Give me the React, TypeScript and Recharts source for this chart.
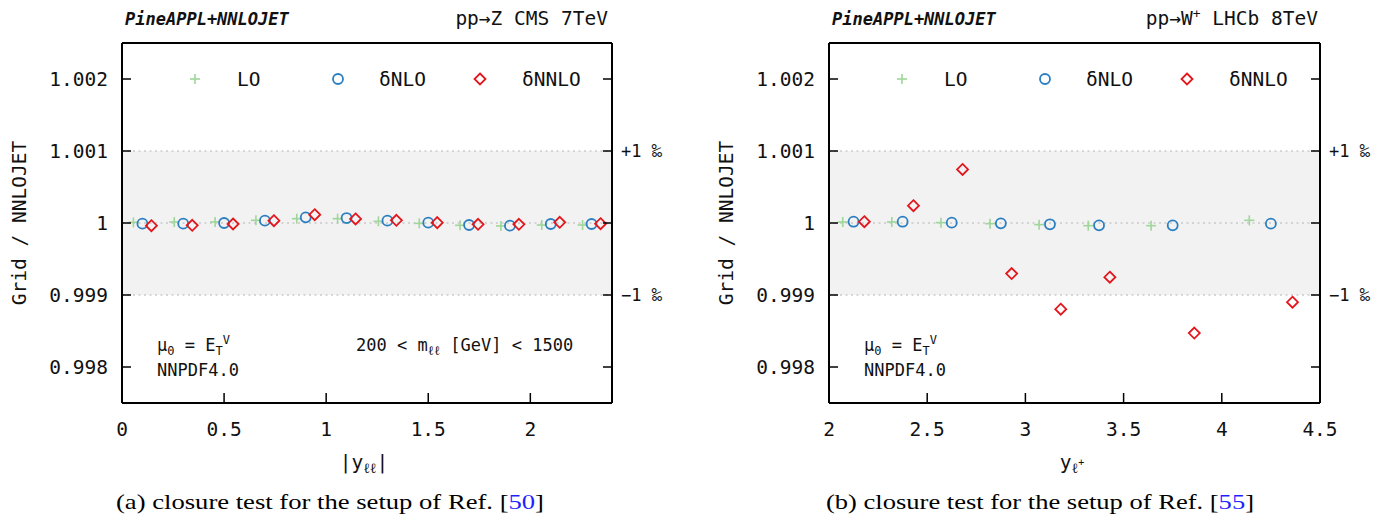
import React from "react";
import {
  ScatterChart,
  Scatter,
  XAxis,
  YAxis,
  ReferenceArea,
  ReferenceLine,
} from "recharts";

// (a) pp -> Z CMS 7TeV, bins in |y_ll|
const zBinLo = [0, 0.2, 0.4, 0.6, 0.8, 1.0, 1.2, 1.4, 1.6, 1.8, 2.0, 2.2];
const zBinHi = [0.2, 0.4, 0.6, 0.8, 1.0, 1.2, 1.4, 1.6, 1.8, 2.0, 2.2, 2.4];
const zLO = [
  1.000009, 1.000014, 1.000014, 1.000037, 1.00006, 1.00006, 1.000023,
  0.999995, 0.999968, 0.999959, 0.999972, 0.999972,
];
const zNLO = [
  0.999991, 0.999991, 1.0, 1.000032, 1.000079, 1.000069, 1.000032, 1.000005,
  0.999972, 0.999963, 0.999986, 0.999986,
];
const zNNLO = [
  0.999963, 0.999968, 0.999986, 1.000032, 1.000116, 1.000056, 1.000037,
  1.000005, 0.999982, 0.999982, 1.000009, 0.999991,
];

// (b) pp -> W+ LHCb 8TeV, bins in y_l+
const wBinLo = [2.0, 2.25, 2.5, 2.75, 3.0, 3.25, 3.5, 4.0];
const wBinHi = [2.25, 2.5, 2.75, 3.0, 3.25, 3.5, 4.0, 4.5];
const wLO = [
  1.000014, 1.000014, 1.000005, 0.999991, 0.999977, 0.999963, 0.999963,
  1.000037,
];
const wNLO = [
  1.000018, 1.000018, 1.000005, 0.999995, 0.999982, 0.999968, 0.999968,
  0.999991,
];
const wNNLO = [
  1.000018, 1.00024, 1.000744, 0.999298, 0.998803, 0.999247, 0.998471,
  0.9989,
];

const yTicks = [0.998, 0.999, 1, 1.001, 1.002];
const yTickLabels = ["0.998", "0.999", "1", "1.001", "1.002"];
const permilleLabels = ["", "\u22121\u2009\u2030", "", "+1\u2009\u2030", ""];
const bandLines = [0.999, 1, 1.001];
const zXTicks = [0, 0.5, 1, 1.5, 2];
const zXTickLabels = ["0", "0.5", "1", "1.5", "2"];
const wXTicks = [2, 2.5, 3, 3.5, 4, 4.5];
const wXTickLabels = ["2", "2.5", "3", "3.5", "4", "4.5"];

const MONO = "'DejaVu Sans Mono', monospace";
const GREEN = "#9fd69a";
const BLUE = "#2b7fc0";
const RED = "#e3161c";

const PlusMark = ({ cx, cy }: { cx: number; cy: number }) => (
  <g stroke={GREEN} strokeWidth={1.6}>
    <line x1={cx - 5} x2={cx + 5} y1={cy} y2={cy} />
    <line x1={cx} x2={cx} y1={cy - 5} y2={cy + 5} />
  </g>
);
const CircleMark = ({ cx, cy }: { cx: number; cy: number }) => (
  <circle cx={cx} cy={cy} r={5} fill="none" stroke={BLUE} strokeWidth={1.8} />
);
const DiamondMark = ({ cx, cy }: { cx: number; cy: number }) => (
  <path
    d={`M${cx},${cy - 5.5}L${cx + 5.5},${cy}L${cx},${cy + 5.5}L${cx - 5.5},${cy}Z`}
    fill="none"
    stroke={RED}
    strokeWidth={1.8}
  />
);

const buildSeries = (lo: number[], hi: number[], vals: number[], shift: number) =>
  vals.map((v, i) => {
    const w = hi[i] - lo[i];
    return { x: (lo[i] + hi[i]) / 2 + shift * 0.22 * w, y: v };
  });

const txt = { fontFamily: MONO, fontSize: 19.5, fill: "#111" };

const LeftTick = (p: any) => {
  const i = yTicks.indexOf(p.payload.value);
  return (
    <g>
      <line x1={p.x} x2={p.x + 9} y1={p.y} y2={p.y} stroke="#000" strokeWidth={1.5} />
      <text x={p.x - 14} y={p.y} dy="0.36em" textAnchor="end" {...txt}>
        {yTickLabels[i]}
      </text>
    </g>
  );
};

const RightTick = (p: any) => {
  const i = yTicks.indexOf(p.payload.value);
  return (
    <g>
      <line x1={p.x} x2={p.x - 9} y1={p.y} y2={p.y} stroke="#000" strokeWidth={1.5} />
      <text x={p.x + 9} y={p.y} dy="0.36em" textAnchor="start" {...txt} fontSize={17}>
        {permilleLabels[i]}
      </text>
    </g>
  );
};

const makeBottomTick = (ticks: number[], labels: string[]) => (p: any) => {
  const i = ticks.indexOf(p.payload.value);
  return (
    <g>
      <line x1={p.x} x2={p.x} y1={p.y} y2={p.y - 10} stroke="#000" strokeWidth={1.5} />
      <text x={p.x} y={p.y + 33} textAnchor="middle" {...txt}>
        {labels[i]}
      </text>
    </g>
  );
};

const TopTick = (p: any) => (
  <line x1={p.x} x2={p.x} y1={p.y} y2={p.y + 10} stroke="#000" strokeWidth={1.5} />
);

interface PanelProps {
  width: number;
  margin: { top: number; right: number; bottom: number; left: number };
  domain: [number, number];
  xTicks: number[];
  xLabels: string[];
  binLo: number[];
  binHi: number[];
  lo: number[];
  nlo: number[];
  nnlo: number[];
}

const Panel: React.FC<PanelProps> = ({
  width,
  margin,
  domain,
  xTicks,
  xLabels,
  binLo,
  binHi,
  lo,
  nlo,
  nnlo,
}) => {
  const frame = { stroke: "#000", strokeWidth: 2 };
  return (
    <ScatterChart width={width} height={516} margin={margin}>
      <XAxis
        xAxisId="bottom"
        orientation="bottom"
        type="number"
        dataKey="x"
        domain={domain}
        ticks={xTicks}
        interval={0}
        allowDataOverflow
        height={30}
        tickSize={0}
        tickMargin={0}
        tickLine={false}
        axisLine={frame}
        tick={makeBottomTick(xTicks, xLabels)}
      />
      <XAxis
        xAxisId="top"
        orientation="top"
        type="number"
        domain={domain}
        ticks={xTicks}
        interval={0}
        allowDataOverflow
        height={10}
        tickSize={0}
        tickMargin={0}
        tickLine={false}
        axisLine={frame}
        tick={TopTick}
      />
      <YAxis
        yAxisId="left"
        orientation="left"
        type="number"
        dataKey="y"
        domain={[0.9975, 1.0025]}
        ticks={yTicks}
        interval={0}
        allowDataOverflow
        width={60}
        tickSize={0}
        tickMargin={0}
        tickLine={false}
        axisLine={frame}
        tick={LeftTick}
      />
      <YAxis
        yAxisId="right"
        orientation="right"
        type="number"
        domain={[0.9975, 1.0025]}
        ticks={yTicks}
        interval={0}
        allowDataOverflow
        width={60}
        tickSize={0}
        tickMargin={0}
        tickLine={false}
        axisLine={frame}
        tick={RightTick}
      />
      <ReferenceArea
        xAxisId="bottom"
        yAxisId="left"
        y1={0.999}
        y2={1.001}
        fill="#f2f2f2"
        fillOpacity={1}
        stroke="none"
      />
      {bandLines.map((v) => (
        <ReferenceLine
          key={v}
          xAxisId="bottom"
          yAxisId="left"
          y={v}
          stroke="#b4b4b4"
          strokeWidth={1}
          strokeDasharray="2 3.5"
        />
      ))}
      <Scatter
        xAxisId="bottom"
        yAxisId="left"
        data={buildSeries(binLo, binHi, lo, -1)}
        shape={(p: any) => <PlusMark cx={p.cx} cy={p.cy} />}
        isAnimationActive={false}
      />
      <Scatter
        xAxisId="bottom"
        yAxisId="left"
        data={buildSeries(binLo, binHi, nlo, 0)}
        shape={(p: any) => <CircleMark cx={p.cx} cy={p.cy} />}
        isAnimationActive={false}
      />
      <Scatter
        xAxisId="bottom"
        yAxisId="left"
        data={buildSeries(binLo, binHi, nnlo, 1)}
        shape={(p: any) => <DiamondMark cx={p.cx} cy={p.cy} />}
        isAnimationActive={false}
      />
    </ScatterChart>
  );
};

// legend + annotations, positioned relative to the plot's left edge
const PanelText = ({ left, right }: { left: number; right: number }) => (
  <g>
    <PlusMark cx={left + 73} cy={79} />
    <text x={left + 115} y={79} dy="0.36em" {...txt}>LO</text>
    <CircleMark cx={left + 216} cy={79} />
    <text x={left + 257} y={79} dy="0.36em" {...txt}>δNLO</text>
    <DiamondMark cx={left + 358} cy={79} />
    <text x={left + 400} y={79} dy="0.36em" {...txt}>δNNLO</text>
    <text x={left + 35} y={351} {...txt} fontSize={17}>
      μ<tspan dy={4} fontSize={12}>0</tspan>
      <tspan dy={-4}> = E</tspan>
      <tspan dy={4} fontSize={12}>T</tspan>
      <tspan dy={-11} fontSize={12}>V</tspan>
    </text>
    <text x={left + 35} y={376} {...txt} fontSize={17}>NNPDF4.0</text>
    <text
      x={left - 103}
      y={223}
      dy="0.36em"
      textAnchor="middle"
      transform={`rotate(-90, ${left - 103}, 223)`}
      {...txt}
    >
      Grid / NNLOJET
    </text>
    <text
      x={left + 3}
      y={25}
      {...txt}
      fontSize={17}
      fontWeight="bold"
      fontStyle="italic"
    >
      PineAPPL+NNLOJET
    </text>
  </g>
);

const App: React.FC = () => {
  return (
    <div
      style={{
        position: "absolute",
        left: 0,
        top: 0,
        width: 1391,
        height: 516,
        background: "#fff",
      }}
    >
      <div style={{ position: "absolute", left: 0, top: 0 }}>
        <Panel
          width={700}
          margin={{ top: 33, right: 28, bottom: 83, left: 62 }}
          domain={[0, 2.4]}
          xTicks={zXTicks}
          xLabels={zXTickLabels}
          binLo={zBinLo}
          binHi={zBinHi}
          lo={zLO}
          nlo={zNLO}
          nnlo={zNNLO}
        />
      </div>
      <div style={{ position: "absolute", left: 700, top: 0 }}>
        <Panel
          width={691}
          margin={{ top: 33, right: 11, bottom: 83, left: 69 }}
          domain={[2, 4.5]}
          xTicks={wXTicks}
          xLabels={wXTickLabels}
          binLo={wBinLo}
          binHi={wBinHi}
          lo={wLO}
          nlo={wNLO}
          nnlo={wNNLO}
        />
      </div>
      <svg
        width={1391}
        height={516}
        style={{ position: "absolute", left: 0, top: 0, pointerEvents: "none" }}
      >
        <PanelText left={122} right={612} />
        <PanelText left={829} right={1320} />

        <text x={608} y={25} textAnchor="end" {...txt}>
          pp→Z CMS 7TeV
        </text>
        <text x={1318} y={25} textAnchor="end" {...txt}>
          pp→W<tspan dy={-7} fontSize={13}>+</tspan>
          <tspan dy={7}> LHCb 8TeV</tspan>
        </text>

        <text x={356} y={351} {...txt} fontSize={17}>
          200 &lt; m<tspan dy={4} fontSize={13}>ℓℓ</tspan>
          <tspan dy={-4}> [GeV] &lt; 1500</tspan>
        </text>

        <text x={364} y={469} textAnchor="middle" {...txt}>
          |y<tspan dy={4} fontSize={14}>ℓℓ</tspan>
          <tspan dy={-4}>|</tspan>
        </text>
        <text x={1072} y={469} textAnchor="middle" {...txt}>
          y<tspan dy={4} fontSize={14}>ℓ</tspan>
          <tspan dy={-7} fontSize={10}>+</tspan>
        </text>

        <text
          x={116}
          y={509}
          fontFamily="'Liberation Serif', serif"
          fontSize={22}
          fill="#000"
          textLength={428}
          lengthAdjust="spacingAndGlyphs"
        >
          (a) closure test for the setup of Ref. [<tspan fill="#1f1fff">50</tspan>]
        </text>
        <text
          x={826}
          y={509}
          fontFamily="'Liberation Serif', serif"
          fontSize={22}
          fill="#000"
          textLength={428}
          lengthAdjust="spacingAndGlyphs"
        >
          (b) closure test for the setup of Ref. [<tspan fill="#1f1fff">55</tspan>]
        </text>
      </svg>
    </div>
  );
};

export default App;
